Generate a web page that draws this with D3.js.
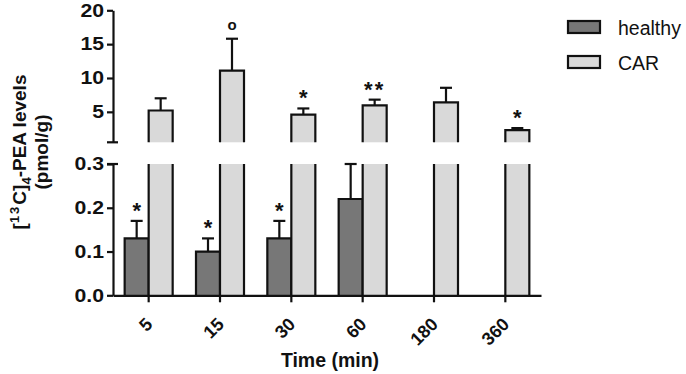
<!DOCTYPE html>
<html>
<head>
<meta charset="utf-8">
<script src="https://cdn.jsdelivr.net/npm/d3@7"></script>
<style>
  html, body { margin: 0; padding: 0; background: #fff; }
  svg { display: block; }
  text { font-family: "Liberation Sans", Arial, sans-serif; fill: #111; }
</style>
</head>
<body>
<svg id="chart" width="686" height="374"></svg>
<script>
// ---------- data ----------
const times = ["5", "15", "30", "60", "180", "360"];
const series = ["healthy", "CAR"];
const healthyMean = [0.13, 0.10, 0.13, 0.22, null, null];
const healthyErr  = [0.17, 0.13, 0.17, 0.30, null, null];
const carMean = [5.2, 11.1, 4.6, 5.95, 6.4, 2.3];
const carErr  = [7.0, 15.8, 5.5, 6.8, 8.55, 2.6];
const healthyMarks = ["*", "*", "*", "", "", ""];
const carMarks = ["", "°", "*", "**", "", "*"];
const upperTicks = [5, 10, 15, 20];
const lowerTicks = [0, 0.1, 0.2, 0.3];
const colors = { healthy: "#777777", CAR: "#d9d9d9" };

// ---------- layout ----------
const svg = d3.select("#chart");
const xL = 113, xR = 541;
const yUp = d3.scaleLinear().domain([0.5, 20]).range([142.3, 10.3]);
const yLo = d3.scaleLinear().domain([0, 0.3]).range([295.3, 164]);
const x0 = d3.scaleBand().domain(times).range([xL, xR]).paddingInner(0.327).paddingOuter(0.1635);
const x1 = d3.scaleBand().domain(series).range([0, x0.bandwidth()]);
const stroke = "#111";
const sw = 2.2;
const capW = 12;

const g = svg.append("g");

// ---------- bars ----------
times.forEach((t, i) => {
  const bx = x0(t);
  const hv = healthyMean[i];
  if (hv != null) {
    const l = bx + x1("healthy"), w = x1.bandwidth();
    const top = yLo(hv), bot = yLo(0);
    const cx = l + w / 2;
    const et = yLo(healthyErr[i]);
    g.append("line").attr("x1", cx).attr("x2", cx).attr("y1", top).attr("y2", et)
      .attr("stroke", stroke).attr("stroke-width", sw);
    g.append("line").attr("x1", cx - capW / 2).attr("x2", cx + capW / 2).attr("y1", et).attr("y2", et)
      .attr("stroke", stroke).attr("stroke-width", sw);
    g.append("rect").attr("x", l).attr("y", top).attr("width", w).attr("height", bot - top)
      .attr("fill", colors.healthy);
    g.append("path").attr("d", `M${l},${bot}V${top}H${l + w}V${bot}`)
      .attr("fill", "none").attr("stroke", stroke).attr("stroke-width", sw);
    if (healthyMarks[i]) {
      g.append("text").attr("x", cx).attr("y", et - 3)
        .attr("text-anchor", "middle").attr("font-size", 22).attr("font-weight", "bold")
        .text(healthyMarks[i]);
    }
  }
  const cv = carMean[i];
  if (cv != null) {
    const l = bx + x1("CAR"), w = x1.bandwidth();
    const cx = l + w / 2;
    const lt = yLo(0.3), lb = yLo(0);
    g.append("rect").attr("x", l).attr("y", lt).attr("width", w).attr("height", lb - lt)
      .attr("fill", colors.CAR);
    g.append("path").attr("d", `M${l},${lb}V${lt}M${l + w},${lt}V${lb}`)
      .attr("fill", "none").attr("stroke", stroke).attr("stroke-width", sw);
    const top = yUp(cv), bot = yUp(0.5);
    const et = yUp(carErr[i]);
    g.append("line").attr("x1", cx).attr("x2", cx).attr("y1", top).attr("y2", et)
      .attr("stroke", stroke).attr("stroke-width", sw);
    g.append("line").attr("x1", cx - capW / 2).attr("x2", cx + capW / 2).attr("y1", et).attr("y2", et)
      .attr("stroke", stroke).attr("stroke-width", sw);
    g.append("rect").attr("x", l).attr("y", top).attr("width", w).attr("height", bot - top)
      .attr("fill", colors.CAR);
    g.append("path").attr("d", `M${l},${bot}V${top}H${l + w}V${bot}`)
      .attr("fill", "none").attr("stroke", stroke).attr("stroke-width", sw);
    const m = carMarks[i];
    if (m === "°") {
      g.append("text").attr("x", cx).attr("y", et - 9)
        .attr("text-anchor", "middle").attr("font-size", 15).attr("font-weight", "bold")
        .text("o");
    } else if (m) {
      g.append("text").attr("x", cx).attr("y", et - 3)
        .attr("text-anchor", "middle").attr("font-size", 22).attr("font-weight", "bold")
        .attr("letter-spacing", m.length > 1 ? 2 : 0)
        .text(m);
    }
  }
});

// ---------- axes ----------
function styleAxis(sel, fs) {
  sel.selectAll("path, line").attr("stroke", stroke).attr("stroke-width", sw);
  sel.selectAll("text").attr("font-size", fs).attr("font-weight", "bold").attr("fill", "#111")
    .attr("font-family", '"Liberation Sans", Arial, sans-serif');
}
const stretch = 1.18;
function widenY(sel) {
  sel.selectAll(".tick text").attr("x", -9 / stretch).attr("transform", `scale(${stretch},1)`);
}
const axUp = svg.append("g").attr("transform", `translate(${xL},0)`)
  .call(d3.axisLeft(yUp).tickValues(upperTicks).tickSize(6).tickSizeOuter(0).tickPadding(3).tickFormat(d3.format("d")));
styleAxis(axUp, 18);
widenY(axUp);
const axLo = svg.append("g").attr("transform", `translate(${xL},0)`)
  .call(d3.axisLeft(yLo).tickValues(lowerTicks).tickSize(6).tickSizeOuter(0).tickPadding(3).tickFormat(d3.format(".1f")));
styleAxis(axLo, 18);
widenY(axLo);
[yUp(0.5), yLo(0.3)].forEach(yy => {
  svg.append("line").attr("x1", xL - 6).attr("x2", xL + 5).attr("y1", yy).attr("y2", yy)
    .attr("stroke", stroke).attr("stroke-width", sw);
});

const axX = svg.append("g").attr("transform", `translate(0,${yLo(0)})`)
  .call(d3.axisBottom(x0).tickSize(7).tickSizeOuter(0));
styleAxis(axX, 18);
axX.selectAll(".tick text")
  .attr("y", null).attr("dy", null)
  .attr("text-anchor", "end")
  .attr("transform", "translate(5,30) rotate(-45)");

// ---------- titles ----------
svg.append("text").attr("x", 330).attr("y", 367).attr("text-anchor", "middle")
  .attr("font-size", 19.5).attr("font-weight", "bold").text("Time (min)");

const yt = svg.append("text").attr("transform", "translate(26,152) rotate(-90)")
  .attr("text-anchor", "middle").attr("font-size", 19).attr("font-weight", "bold");
yt.append("tspan").text("[");
yt.append("tspan").attr("font-size", 13).attr("dy", -7).attr("letter-spacing", 2).text("13");
yt.append("tspan").attr("dy", 7).text("C]");
yt.append("tspan").attr("font-size", 13).attr("dy", 5).text("4");
yt.append("tspan").attr("dy", -5).text("-PEA levels");
svg.append("text").attr("transform", "translate(48,152) rotate(-90)")
  .attr("text-anchor", "middle").attr("font-size", 19).attr("font-weight", "bold").text("(pmol/g)");

// ---------- legend ----------
const legY = [21, 56];
series.forEach((s, i) => {
  svg.append("rect").attr("x", 568).attr("y", legY[i]).attr("width", 32).attr("height", 12)
    .attr("fill", colors[s]).attr("stroke", stroke).attr("stroke-width", sw);
  svg.append("text").attr("x", 618).attr("y", legY[i] + 14).attr("font-size", 19.5).text(s);
});
</script>
</body>
</html>
